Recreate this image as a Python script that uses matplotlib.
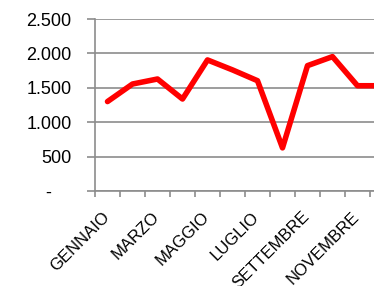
import matplotlib
matplotlib.use("Agg")
import matplotlib.pyplot as plt
from matplotlib.transforms import ScaledTranslation

months = ["GENNAIO", "FEBBRAIO", "MARZO", "APRILE", "MAGGIO", "GIUGNO",
          "LUGLIO", "AGOSTO", "SETTEMBRE", "OTTOBRE", "NOVEMBRE", "DICEMBRE"]
values = [1300, 1555, 1628, 1337, 1905, 1760, 1603, 627, 1822, 1953, 1530, 1530]
yticks = [0, 500, 1000, 1500, 2000, 2500]
ytick_labels = ["-    ", "500", "1.000", "1.500", "2.000", "2.500"]

plt.rcParams['font.family'] = ['Liberation Sans', 'DejaVu Sans']

fig = plt.figure(figsize=(3.74, 2.86), dpi=100)
W, H = 374, 286
ax = fig.add_axes([95 / W, (H - 191) / H, 300 / W, (191 - 19) / H])

x = list(range(len(months)))
ax.plot(x, values, color='#ff0000', lw=4, solid_capstyle='round',
        solid_joinstyle='round', zorder=3, clip_on=False)

ax.set_xlim(-0.5, len(months) - 0.5)
ax.set_ylim(0, 2500)

gray = '#8c8c8c'
ax.set_yticks(yticks)
ax.set_yticklabels(ytick_labels, fontsize=13, color='black')
ax.yaxis.grid(True, color=gray, lw=1.2)
ax.tick_params(axis='y', length=6, width=1.2, color=gray, pad=11)

# category boundaries as major ticks, labels at centers as minor ticks
ax.set_xticks([i - 0.5 for i in range(len(months) + 1)])
ax.set_xticklabels([])
ax.tick_params(axis='x', which='major', length=4, width=1.2, color=gray)
lab_pos = x[::2]
ax.set_xticks(lab_pos, minor=True)
ax.set_xticklabels([months[i] for i in lab_pos], minor=True, fontsize=12,
                   rotation=45, ha='right', rotation_mode='anchor')
ax.tick_params(axis='x', which='minor', length=0, pad=13)
off = ScaledTranslation(-0.06, 0, fig.dpi_scale_trans)
for lab in ax.get_xticklabels(minor=True):
    lab.set_transform(lab.get_transform() + off)

for s in ['top', 'right']:
    ax.spines[s].set_visible(False)
for s in ['left', 'bottom']:
    ax.spines[s].set_color(gray)
    ax.spines[s].set_linewidth(1.2)
ax.set_axisbelow(True)

fig.savefig("out.png", dpi=100)
